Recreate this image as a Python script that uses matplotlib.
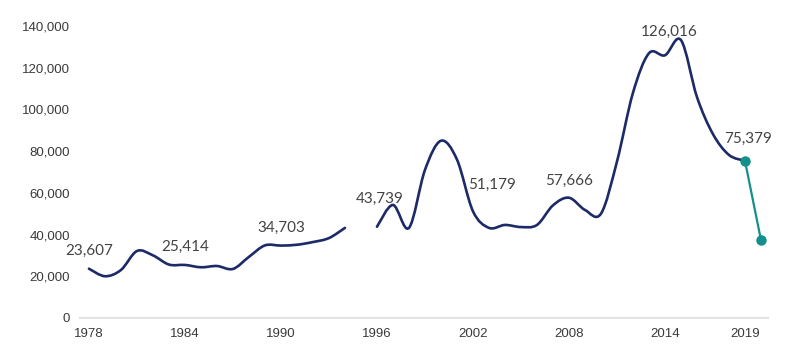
import numpy as np
import matplotlib
matplotlib.use("Agg")
import matplotlib.pyplot as plt
from matplotlib.path import Path
from matplotlib.patches import PathPatch

# series values
years_a = list(range(1978, 1995))
vals_a = [23607, 20000, 23000, 32100, 30000, 25600, 25414, 24300, 24900,
          23500, 29300, 34800, 34703, 35100, 36400, 38300, 43200]

years_b = list(range(1996, 2020))
vals_b = [43739, 54200, 43200, 71000, 85000, 76000, 51179, 43200, 44600,
          43600, 44600, 54000, 57666, 51800, 50000, 75000, 108000, 127000,
          126016, 133300, 106000, 88200, 78200, 75379]

years_c = [2019, 2020]
vals_c = [75379, 37400]

label_years = [1978, 1984, 1990, 1996, 2002, 2008, 2014, 2019]
label_offsets = [(0, 13), (0, 13), (0, 13), (2, 20), (14, 19), (0, 12), (3, 17), (2, 16)]

xtick_years = [1978, 1984, 1990, 1996, 2002, 2008, 2014, 2019]
yticks = [0, 20000, 40000, 60000, 80000, 100000, 120000, 140000]

NAVY = "#1c2a68"
TEAL = "#138f8c"


def smooth_path(xs, ys):
    # Catmull-Rom style bezier, like a spreadsheet "smoothed line"
    pts = np.column_stack([xs, ys]).astype(float)
    verts = [pts[0]]
    codes = [Path.MOVETO]
    n = len(pts)
    for i in range(n - 1):
        p0 = pts[i - 1] if i > 0 else pts[i]
        p1 = pts[i]
        p2 = pts[i + 1]
        p3 = pts[i + 2] if i + 2 < n else pts[i + 1]
        c1 = p1 + (p2 - p0) / 6.0
        c2 = p2 - (p3 - p1) / 6.0
        verts += [c1, c2, p2]
        codes += [Path.CURVE4] * 3
    return Path(verts, codes)


fig = plt.figure(figsize=(8, 3.58), dpi=100)
ax = fig.add_axes([0.1, 0.112, 0.86, 0.815])

for xs, ys in [(years_a, vals_a), (years_b, vals_b)]:
    ax.add_patch(PathPatch(smooth_path(xs, ys), facecolor="none",
                           edgecolor=NAVY, lw=1.9, capstyle="round"))

ax.plot(years_c, vals_c, color=TEAL, lw=1.6, marker="o", markersize=6.5)

lookup = dict(zip(years_a + years_b, vals_a + vals_b))
for yr, off in zip(label_years, label_offsets):
    v = lookup[yr]
    ax.annotate(f"{v:,}", (yr, v), xytext=off, textcoords="offset points",
                ha="center", va="center", fontsize=11, family="Lato",
                color="#434343")

ax.set_xlim(1977.44, 2020.44)
ax.set_ylim(0, 140000)
ax.set_xticks(xtick_years)
ax.set_yticks(yticks)
ax.set_yticklabels([f"{t:,}" for t in yticks])
for lab in ax.get_xticklabels() + ax.get_yticklabels():
    lab.set_family("Liberation Sans")
    lab.set_fontsize(9.5)
    lab.set_color("#3a3a3a")
ax.tick_params(length=0, pad=7)

for s in ["top", "right", "left"]:
    ax.spines[s].set_visible(False)
ax.spines["bottom"].set_color("#e3e3e3")
ax.spines["bottom"].set_linewidth(1.5)

fig.savefig("out.png", dpi=100)
